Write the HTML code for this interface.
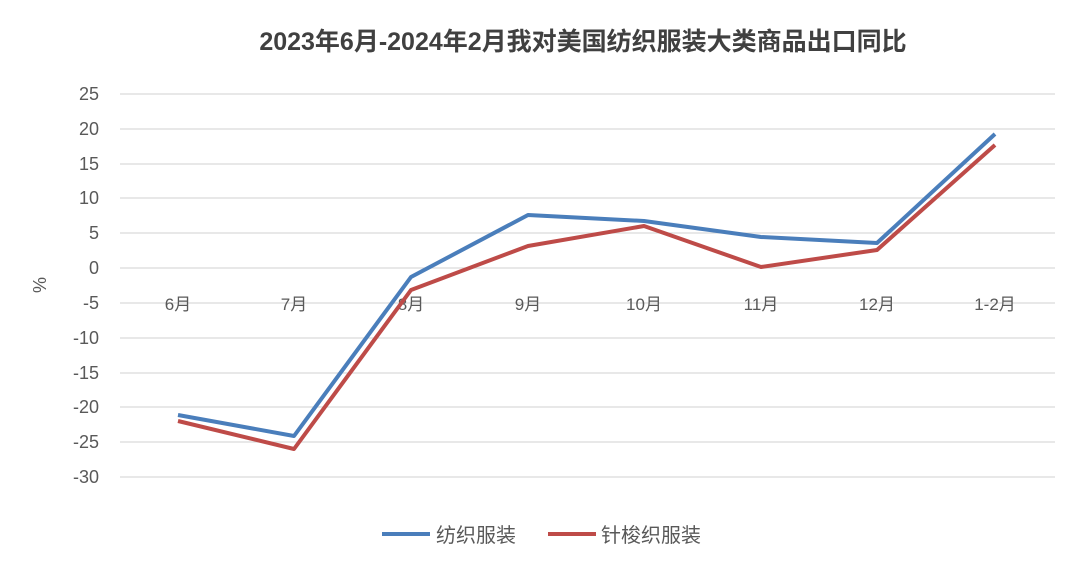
<!DOCTYPE html>
<html><head><meta charset="utf-8"><style>
body{margin:0;background:#fff;}
svg text{font-family:"Liberation Sans","Noto Sans CJK SC",sans-serif;fill:#595959;}
</style></head><body>
<svg width="1080" height="569" xmlns="http://www.w3.org/2000/svg">
<rect width="1080" height="569" fill="#fff"/>
<text x="583" y="50" text-anchor="middle" font-size="25" font-weight="bold" style="fill:#404040">2023年6月-2024年2月我对美国纺织服装大类商品出口同比</text>
<g stroke="#d9d9d9" stroke-width="1.2">
<line x1="120" x2="1055" y1="94" y2="94"/><line x1="120" x2="1055" y1="129" y2="129"/>
<line x1="120" x2="1055" y1="164" y2="164"/><line x1="120" x2="1055" y1="198" y2="198"/>
<line x1="120" x2="1055" y1="233" y2="233"/><line x1="120" x2="1055" y1="268" y2="268"/>
<line x1="120" x2="1055" y1="303" y2="303"/><line x1="120" x2="1055" y1="338" y2="338"/>
<line x1="120" x2="1055" y1="373" y2="373"/><line x1="120" x2="1055" y1="407" y2="407"/>
<line x1="120" x2="1055" y1="442" y2="442"/><line x1="120" x2="1055" y1="477" y2="477"/>
</g>
<g font-size="18" text-anchor="end">
<text x="99" y="100">25</text><text x="99" y="135">20</text><text x="99" y="170">15</text>
<text x="99" y="204">10</text><text x="99" y="239">5</text><text x="99" y="274">0</text>
<text x="99" y="309">-5</text><text x="99" y="344">-10</text><text x="99" y="379">-15</text>
<text x="99" y="413">-20</text><text x="99" y="448">-25</text><text x="99" y="483">-30</text>
</g>
<text x="46" y="285" font-size="18" text-anchor="middle" transform="rotate(-90 46 285)">%</text>
<g font-size="17" text-anchor="middle">
<text x="178" y="310">6月</text><text x="294" y="310">7月</text><text x="411" y="310">8月</text>
<text x="528" y="310">9月</text><text x="644" y="310">10月</text><text x="761" y="310">11月</text>
<text x="877" y="310">12月</text><text x="995" y="310">1-2月</text>
</g>
<polyline fill="none" stroke="#4a7ebb" stroke-width="4" stroke-linejoin="round" points="178,415 294,436 411,277 528,215 644,221 761,237 877,243 995,134"/>
<polyline fill="none" stroke="#be4b48" stroke-width="4" stroke-linejoin="round" points="178,421 294,449 411,290 528,246 644,226 761,267 877,250 995,145"/>
<line x1="382" x2="430" y1="534" y2="534" stroke="#4a7ebb" stroke-width="4"/>
<text x="436" y="542" font-size="20">纺织服装</text>
<line x1="548" x2="596" y1="534" y2="534" stroke="#be4b48" stroke-width="4"/>
<text x="601" y="542" font-size="20">针梭织服装</text>
</svg>
</body></html>
